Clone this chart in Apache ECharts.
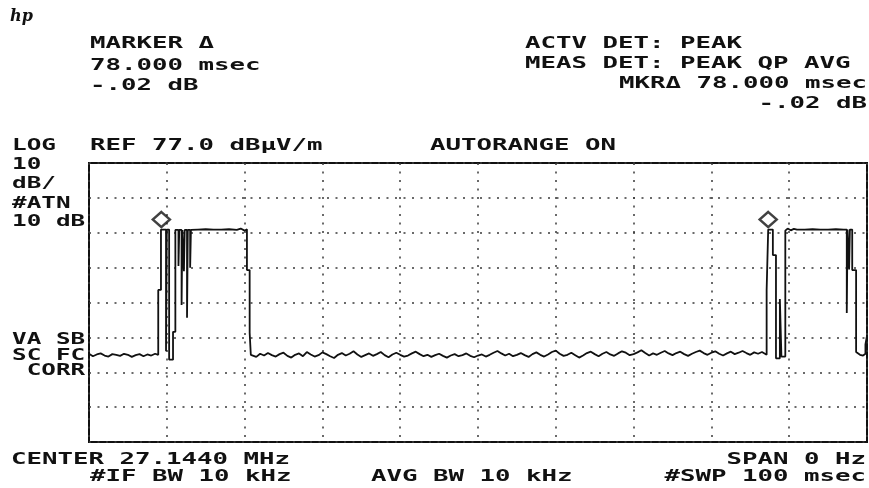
<!DOCTYPE html>
<html>
<head>
<meta charset="utf-8">
<script src="https://cdn.jsdelivr.net/npm/echarts@6/dist/echarts.min.js"></script>
<style>
html,body{margin:0;padding:0;background:#fff;}
#chart{width:869px;height:488px;}
</style>
</head>
<body>
<div id="chart"></div>
<script>
// Sweep: 0..100 msec, level in dBµV/m (REF 77.0, 10 dB/div, 8 div)
var sweepRange = [0, 100];
var levelRange = [-3, 77];

// Trace: baseline before first burst [msec, dBµV/m]
var baselineLeft = [[0,22.3],[0.5,21.6],[1,22.1],[1.5,22.4],[2,21.8],[2.5,21.5],[3,22.2],[3.5,22.0],[4,21.7],[4.5,22.3],[5,22.0],[5.5,21.4],[6,21.9],[6.5,22.2],[7,21.6],[7.5,22.1],[8,21.8],[8.5,22.3],[8.9,22.0]];

// First burst
var burst1 = [[8.9,40.6],[9.25,40.6],[9.25,57.9],[9.9,57.9],[9.9,23.0],[10.0,23.0],[10.0,57.9],[10.3,57.9],[10.3,20.6],[10.8,20.6],[10.8,28.6],[11.1,28.6],[11.1,57.8],[11.5,57.8],[11.5,47.5],[11.6,57.8],[11.9,57.8],[11.9,36.3],[12.0,57.8],[12.2,57.8],[12.2,46.0],[12.3,57.8],[12.6,57.8],[12.6,32.6],[12.7,57.8],[13.0,57.8],[13.0,47.0],[13.1,57.8],[14,57.9],[15,58.0],[16,57.9],[17,57.9],[18,58.0],[19,57.8],[19.5,58.2],[20,57.6],[20.3,58.0],[20.3,46.3],[20.65,46.3],[20.65,28.3],[20.8,28.3],[20.8,22.0]];

// Baseline between bursts: sweep points every 0.5 msec starting at 21 msec
var baselineMidStart = 21;
var baselineMidStep = 0.5;
var baselineMid = [22.0,21.4,22.3,21.8,22.5,21.9,21.5,22.2,22.6,21.7,
  21.2,22.0,22.4,21.6,22.8,22.1,21.5,21.9,22.7,22.2,
  21.6,21.1,22.0,22.5,21.8,22.3,23.0,22.1,21.4,21.9,
  22.4,21.7,22.2,22.8,21.9,21.3,22.1,22.6,22.0,21.5,
  21.8,22.4,22.9,22.2,21.6,22.0,21.4,21.9,22.3,21.7,
  21.2,21.8,22.2,21.6,21.9,22.4,21.7,21.3,21.8,22.1,
  21.5,22.0,22.6,23.1,22.4,21.8,22.3,21.6,22.0,22.5,
  21.9,21.4,22.2,22.7,22.0,21.5,22.1,22.8,23.2,22.3,
  21.7,22.0,22.6,21.9,21.2,21.8,22.5,22.9,22.2,21.6,
  22.3,22.8,22.1,21.7,22.4,23.0,22.6,21.9,22.2,22.7,
  23.3,22.5,21.8,22.4,22.0,22.6,23.1,22.4,21.9,22.5,
  22.9,22.2,21.7,22.3,22.8,23.2,22.5,22.0,22.6,23.0,
  22.3,21.8,22.4,22.9,22.2,22.6,23.1,22.5,22.0,22.7,
  22.3,22.8];

// Second burst and end of sweep
var burst2 = [[87.1,22.0],[87.1,40.6],[87.3,40.6],[87.3,57.9],[87.9,57.9],[87.9,50.6],[88.3,50.6],[88.3,21.0],[88.8,21.0],[88.8,38.0],[89.0,38.0],[89.0,21.5],[89.5,21.5],[89.5,57.6],[89.8,58.2],[90.2,57.7],[90.6,58.1],[91,57.9],[92,57.9],[93,58.0],[94,57.9],[95,57.9],[96,58.0],[97,57.9],[97.4,57.9],[97.4,34.0],[97.5,57.9],[97.7,57.9],[97.7,46.5],[97.8,57.9],[98.1,57.9],[98.1,46.3],[98.6,46.3],[98.6,22.8],[99.1,22.0],[99.5,21.8],[99.8,22.3],[99.8,25.0],[100,27.5]];

// Delta markers (78.000 msec apart)
var markerTimes = [9.3, 87.3];
var markerLevels = [60.8, 60.8];

// Annotation texts
var headerLeft = ["MARKER \u0394", "78.000 msec", "-.02 dB"];
var headerRight = ["ACTV DET: PEAK", "MEAS DET: PEAK QP AVG"];
var headerRightAligned = ["MKR\u0394 78.000 msec", "-.02 dB"];
var scaleLabels = ["LOG", "10", "dB/", "#ATN", "10 dB"];
var refLabel = "REF 77.0 dB\u00b5V/m";
var autorangeLabel = "AUTORANGE ON";
var corrLabels = ["VA SB", "SC FC", " CORR"];
var footerLeft = ["CENTER 27.1440 MHz", "#IF BW 10 kHz", "AVG BW 10 kHz"];
var footerRight = ["SPAN 0 Hz", "#SWP 100 msec"];

// ---- build ----
var trace = [].concat(baselineLeft, burst1);
for (var i = 0; i < baselineMid.length; i++) {
  trace.push([baselineMidStart + i * baselineMidStep, baselineMid[i]]);
}
trace = trace.concat(burst2);
var markers = markerTimes.map(function (t, i) { return [t, markerLevels[i]]; });

var SX = 1.716;
var FONT = 'bold 15px "DejaVu Sans Mono"';
function txt(s, x, y, align, sx) {
  return {
    type: 'text', x: x, y: y, scaleX: sx || SX, scaleY: 1, silent: true,
    style: { text: s, x: 0, y: 0, font: FONT, fill: '#111',
      align: align || 'left', verticalAlign: 'middle',
      textAlign: align || 'left', textVerticalAlign: 'middle' }
  };
}
var DY = 2;
var g = [];
g.push({ type: 'text', x: 10, y: 17, silent: true,
  style: { text: 'hp', x: 0, y: 0, font: 'italic bold 16px "DejaVu Serif"', fill: '#111', verticalAlign: 'middle', textVerticalAlign: 'middle' } });
var hlY = [42.5, 64, 84.5];
headerLeft.forEach(function (s, i) { g.push(txt(s, 90, hlY[i] + DY)); });
var hrY = [41.7, 61.7];
headerRight.forEach(function (s, i) { g.push(txt(s, 525, hrY[i] + DY)); });
var hraY = [82, 102];
headerRightAligned.forEach(function (s, i) { g.push(txt(s, 867, hraY[i] + DY, 'right')); });
var LSX = 1.62;
var slY = [144.3, 162.8, 182, 201.7, 220];
scaleLabels.forEach(function (s, i) { g.push(txt(s, 12, slY[i] + DY, 'left', LSX)); });
g.push(txt(refLabel, 90, 144.3 + DY));
g.push(txt(autorangeLabel, 430, 144.3 + DY));
var clY = [338, 353.7, 368.7];
corrLabels.forEach(function (s, i) { g.push(txt(s, 12, clY[i] + DY, 'left', LSX)); });
g.push(txt(footerLeft[0], 11, 458 + DY));
g.push(txt(footerLeft[1], 90, 475 + DY));
g.push(txt(footerLeft[2], 371, 475 + DY));
g.push(txt(footerRight[0], 866, 458 + DY, 'right'));
g.push(txt(footerRight[1], 866, 475 + DY, 'right'));

var dotted = { type: [2, 6.5], color: '#3a3a3a', width: 1.5 };
var chart = echarts.init(document.getElementById('chart'), null, { renderer: 'canvas' });
chart.setOption({
  animation: false,
  backgroundColor: '#ffffff',
  grid: { left: 89, top: 163, width: 778, height: 279, show: true, borderColor: '#111', borderWidth: 2, backgroundColor: 'transparent', containLabel: false },
  xAxis: { type: 'value', min: sweepRange[0], max: sweepRange[1], interval: 10,
    axisLine: { show: false }, axisTick: { show: false }, axisLabel: { show: false },
    splitLine: { show: true, lineStyle: dotted } },
  yAxis: [
    { type: 'value', min: levelRange[0], max: levelRange[1], show: false, splitLine: { show: false } },
    { type: 'value', min: 0, max: 8, interval: 1, position: 'left',
      axisLine: { show: false }, axisTick: { show: false }, axisLabel: { show: false },
      splitLine: { show: true, lineStyle: dotted } }
  ],
  series: [
    { type: 'line', yAxisIndex: 0, data: trace, showSymbol: false, symbol: 'none',
      lineStyle: { color: '#111', width: 1.8 }, z: 3 },
    { type: 'scatter', yAxisIndex: 0, data: markers, symbol: 'diamond', symbolSize: [17, 15],
      itemStyle: { color: '#ffffff', borderColor: '#111', borderWidth: 2.5 }, z: 4 }
  ],
  graphic: g
});
</script>
</body>
</html>
